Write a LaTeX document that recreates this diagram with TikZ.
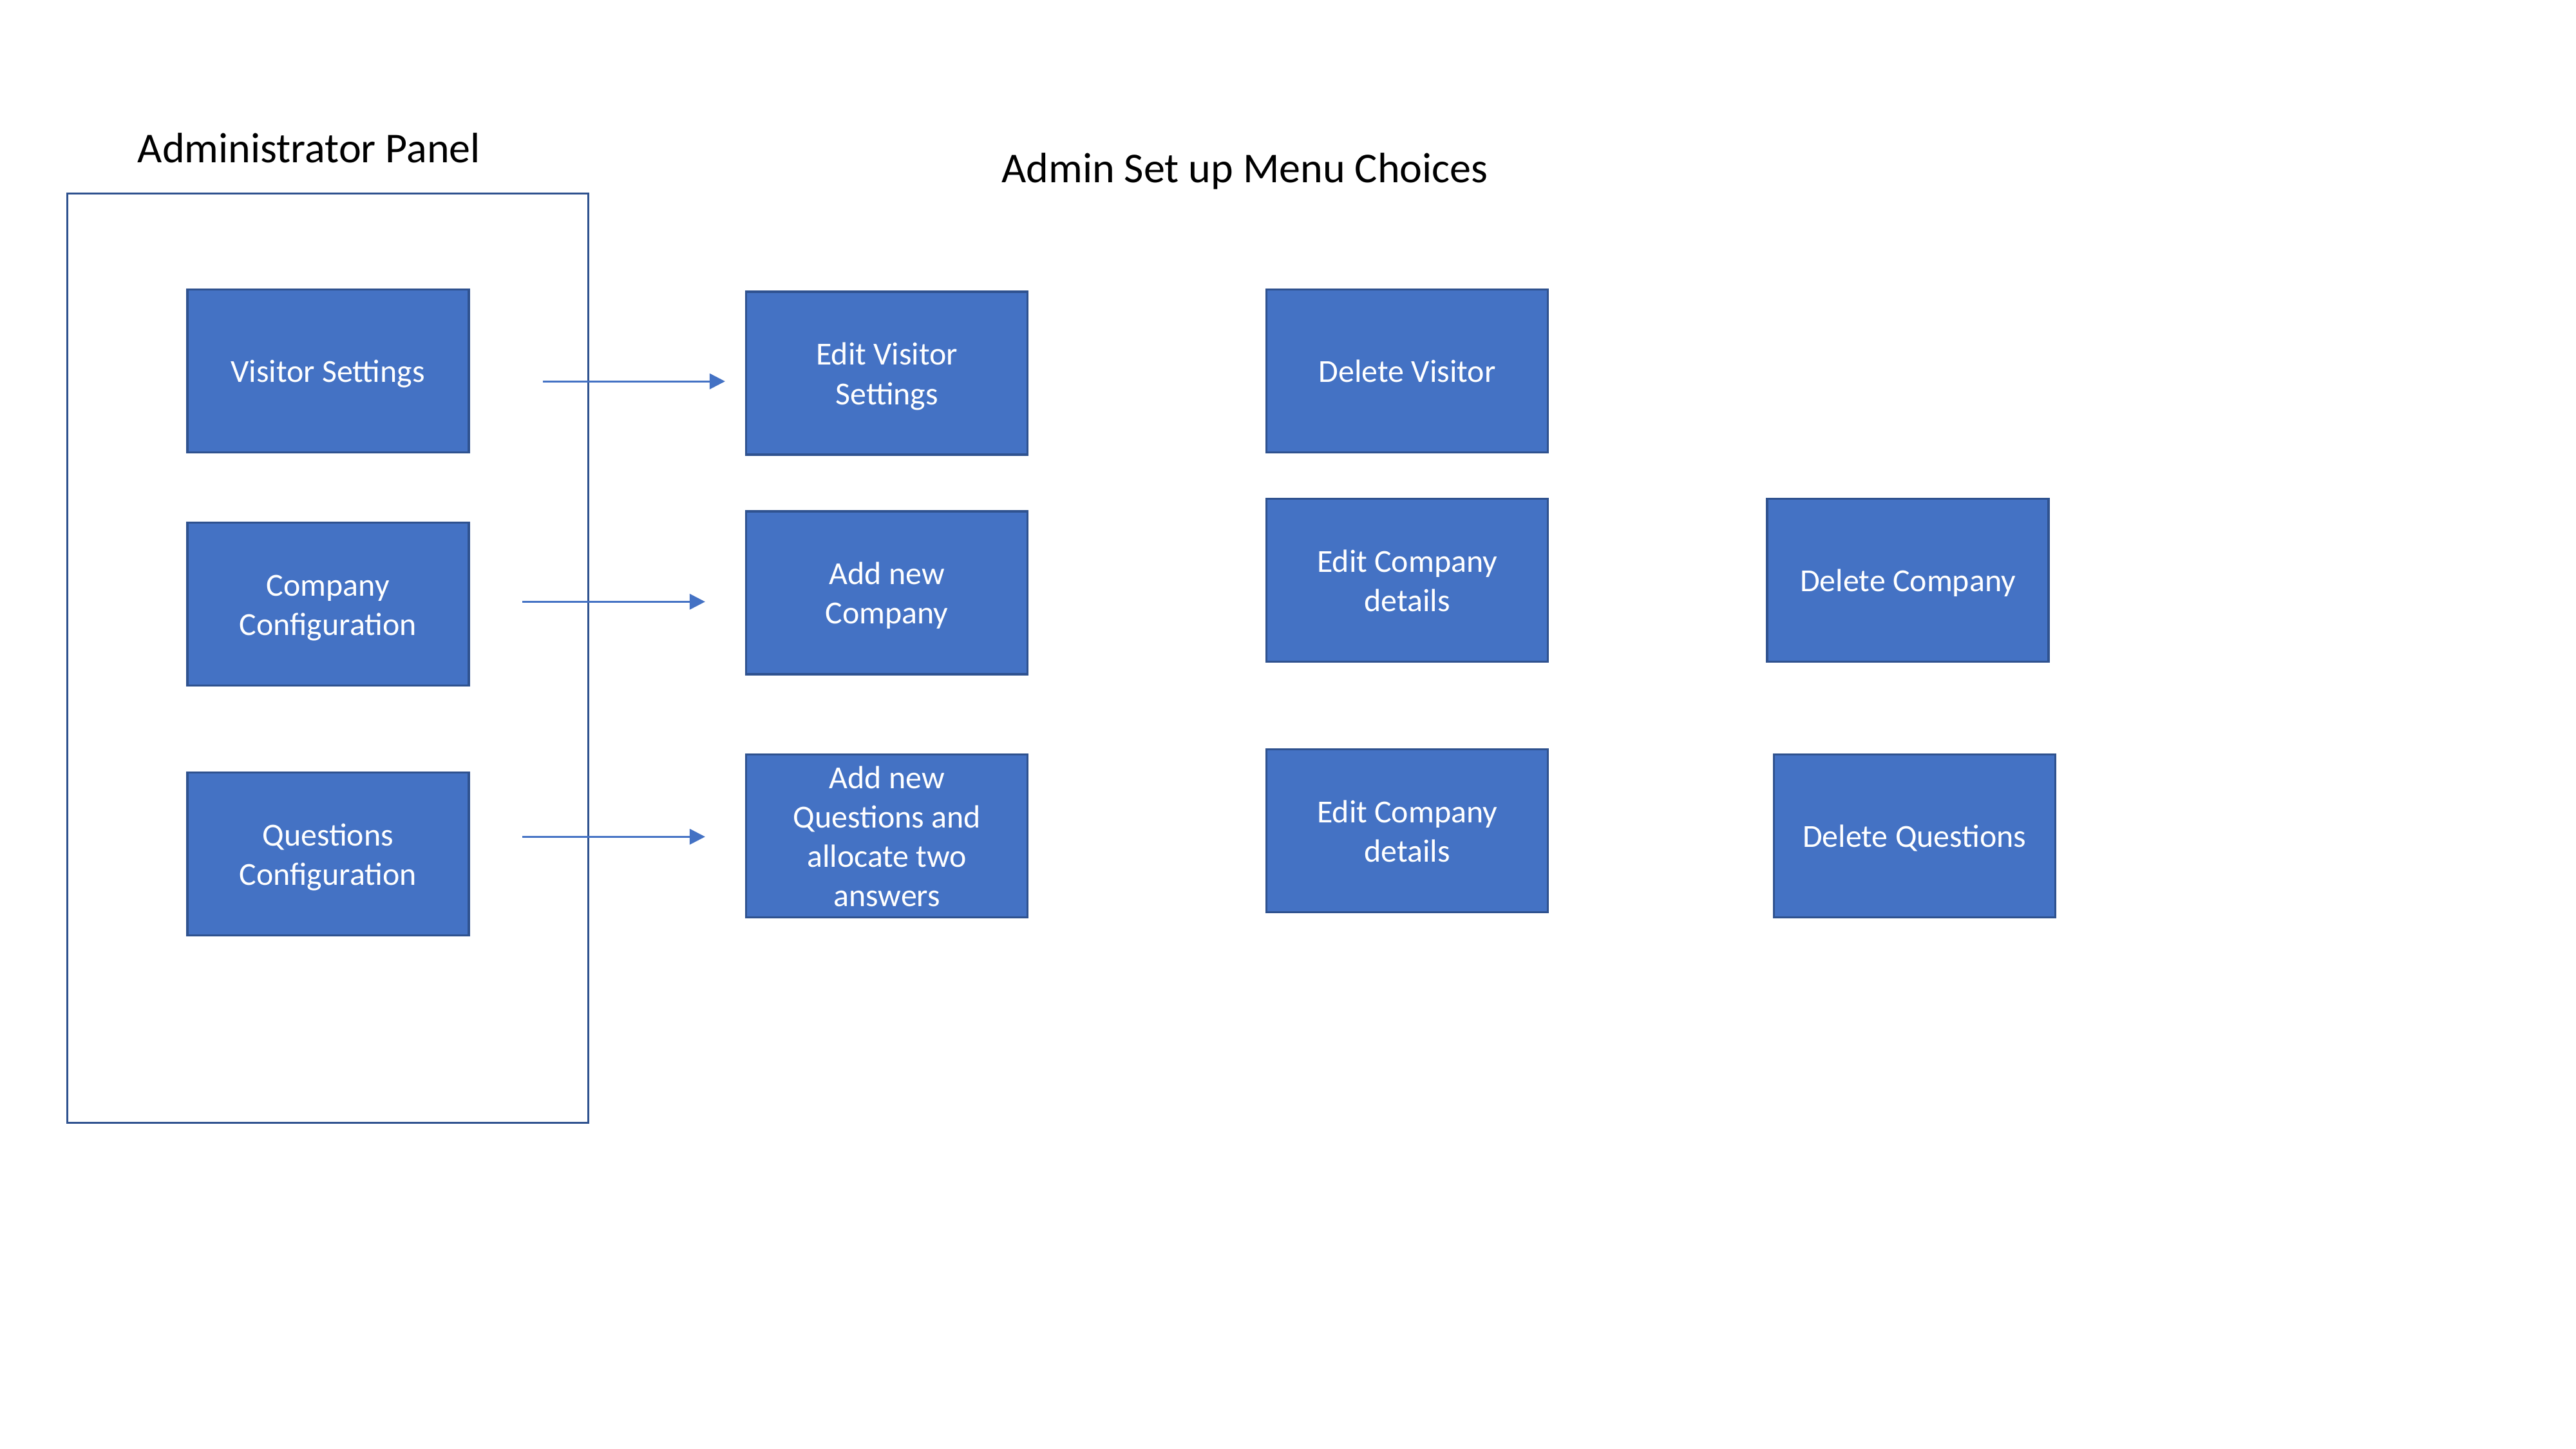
\documentclass[tikz,border=0pt]{standalone}
\usepackage{fontspec}
\setmainfont{Carlito}
\usetikzlibrary{arrows.meta}
\definecolor{boxFill}{HTML}{4472C4}
\definecolor{boxLine}{HTML}{2F528F}
\newcommand{\boxtext}[1]{\rule{0pt}{0.97em}#1\rule[-0.25em]{0pt}{0.25em}}
\tikzset{>={Triangle[length=0.24cm,width=0.24cm]}}
\tikzset{
	menubox/.style={draw=boxLine, line width=1pt, fill=boxFill, text=white, align=center,
		minimum width=4.37cm, minimum height=2.53cm, inner xsep=2pt, inner ysep=0pt,
		font=\fontsize{14.2}{17.4}\selectfont},
	heading/.style={font=\fontsize{18.8}{22}\selectfont},
	link/.style={->, draw=boxFill, line width=0.85pt}
}
\begin{document}
\begin{tikzpicture}
		\useasboundingbox (0,0) rectangle (40,22.5);
		\node [heading] (adminTitle) at (4.80,20.20) {Administrator Panel};
		\node [heading] (menuTitle) at (19.33,19.84) {Admin Set up Menu Choices};
		\draw [boxLine, line width=0.85pt] (1.046,5.06) rectangle (9.139,19.49);
		\node [menubox] (visitor) at (5.093,16.74) {\boxtext{Visitor Settings}};
		\node [menubox] (company) at (5.093,13.12) {\boxtext{Company\\Configuration}};
		\node [menubox] (questions) at (5.093,9.24) {\boxtext{Questions\\Configuration}};
		\node [menubox] (editVisitor) at (13.772,16.705) {\boxtext{Edit Visitor\\Settings}};
		\node [menubox] (addCompany) at (13.772,13.296) {\boxtext{Add new\\Company}};
		\node [menubox] (addQuestions) at (13.772,9.52) {\boxtext{Add new\\Questions and\\allocate two\\answers}};
		\node [menubox] (delVisitor) at (21.852,16.74) {\boxtext{Delete Visitor}};
		\node [menubox] (editCompany) at (21.852,13.49) {\boxtext{Edit Company\\details}};
		\node [menubox] (editCompanyB) at (21.852,9.60) {\boxtext{Edit Company\\details}};
		\node [menubox] (delCompany) at (29.626,13.49) {\boxtext{Delete Company}};
		\node [menubox] (delQuestions) at (29.728,9.52) {\boxtext{Delete Questions}};
		\coordinate (rowA) at (0,16.578);
		\coordinate (rowB) at (0,13.156);
		\coordinate (rowC) at (0,9.507);
		\draw [link] ([xshift=1.13cm]visitor.east |- rowA) -- ([xshift=-0.31cm]editVisitor.west |- rowA);
		\draw [link] ([xshift=0.81cm]company.east |- rowB) -- ([xshift=-0.62cm]addCompany.west |- rowB);
		\draw [link] ([xshift=0.81cm]questions.east |- rowC) -- ([xshift=-0.62cm]addQuestions.west |- rowC);
		\end{tikzpicture}
\end{document}
